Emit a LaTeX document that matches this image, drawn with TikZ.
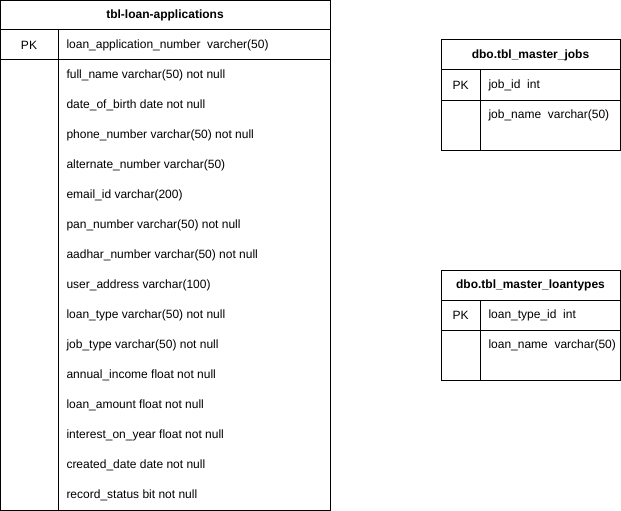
\documentclass[tikz,border=0pt]{standalone}
\usepackage{fontspec}
\setmainfont{Liberation Sans}
\begin{document}
\begin{tikzpicture}[x=1pt,y=-1pt,line width=1pt,
  tline/.style={draw=black,line width=1pt},
  ttitle/.style={font=\fontsize{12}{14}\selectfont\bfseries,inner sep=0pt},
  tcell/.style={font=\fontsize{12}{14}\selectfont,inner sep=0pt,anchor=west},
  tpk/.style={font=\fontsize{12}{14}\selectfont,inner sep=0pt}]
\useasboundingbox (0,0) rectangle (621,511);
% main table
\draw[tline] (0.5,0.5) rectangle (330,510);
\draw[tline] (0.5,30) -- (330,30);
\draw[tline] (0.5,60) -- (330,60);
\draw[tline] (58,30) -- (58,510);
\node[ttitle] (mt) at (165,15) {tbl-loan-applications};
\node[tpk] (mpk) at (29,45) {PK};
\node[tcell] (m0) at (66,45) {loan\_application\_number\ \ varcher(50)};
\foreach \t [count=\i from 0] in {full\_name varchar(50) not null,
  date\_of\_birth date not null,
  phone\_number varchar(50) not null,
  alternate\_number varchar(50),
  email\_id varchar(200),
  pan\_number varchar(50) not null,
  aadhar\_number varchar(50) not null,
  user\_address varchar(100),
  loan\_type varchar(50) not null,
  job\_type varchar(50) not null,
  annual\_income float not null,
  loan\_amount float not null,
  interest\_on\_year float not null,
  created\_date date not null,
  record\_status bit not null}
  \node[tcell] (mr\i) at (66,75+30*\i) {\t};
% jobs table
\draw[tline] (441,40) rectangle (620,150);
\draw[tline] (441,70) -- (620,70);
\draw[tline] (441,100) -- (620,100);
\draw[tline] (480,70) -- (480,150);
\node[ttitle] (jt) at (530.5,55) {dbo.tbl\_master\_jobs};
\node[tpk] (jpk) at (460.5,85) {PK};
\node[tcell] (j0) at (488,85) {job\_id\ \ int};
\node[tcell] (j1) at (488,115) {job\_name\ \ varchar(50)};
% loantypes table
\draw[tline] (441,270) rectangle (620,380);
\draw[tline] (441,300) -- (620,300);
\draw[tline] (441,330) -- (620,330);
\draw[tline] (480,300) -- (480,380);
\node[ttitle] (lt) at (530.5,285) {dbo.tbl\_master\_loantypes};
\node[tpk] (lpk) at (460.5,315) {PK};
\node[tcell] (l0) at (488,315) {loan\_type\_id\ \ int};
\node[tcell] (l1) at (488,345) {loan\_name\ \ varchar(50)};
\end{tikzpicture}
\end{document}
